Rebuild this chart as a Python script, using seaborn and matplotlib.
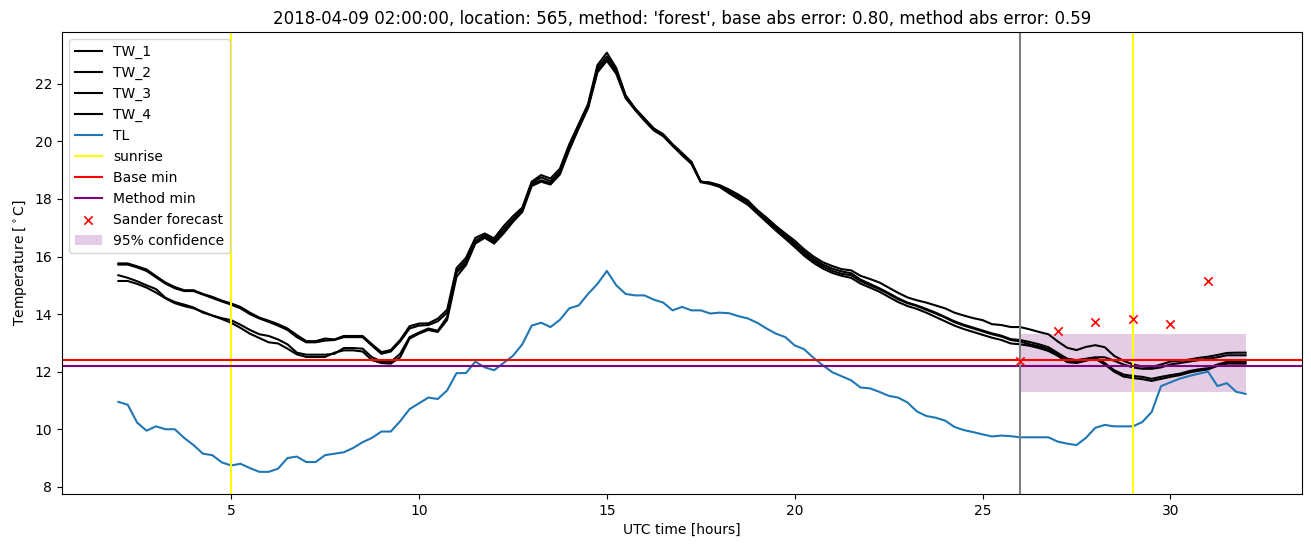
import numpy as np
import pandas as pd
import matplotlib
matplotlib.use("Agg")
import matplotlib.pyplot as plt
import seaborn as sns

# ---- data ----
hours = np.arange(2.0, 32.001, 0.25)

TL = [10.95, 10.85, 10.23, 9.95, 10.1, 10.0, 10.0, 9.7,
      9.45, 9.15, 9.1, 8.85, 8.74, 8.8, 8.65, 8.52,
      8.52, 8.63, 9.0, 9.05, 8.86, 8.86, 9.1, 9.15,
      9.2, 9.35, 9.55, 9.7, 9.92, 9.92, 10.28, 10.7,
      10.9, 11.1, 11.05, 11.35, 11.95, 11.95, 12.35, 12.15,
      12.05, 12.3, 12.55, 12.95, 13.6, 13.7, 13.55, 13.8,
      14.2, 14.3, 14.7, 15.05, 15.5, 15.0, 14.7, 14.65,
      14.65, 14.5, 14.4, 14.13, 14.25, 14.13, 14.13, 14.02,
      14.05, 14.03, 13.93, 13.85, 13.7, 13.5, 13.32, 13.2,
      12.91, 12.78, 12.48, 12.22, 11.98, 11.84, 11.7, 11.45,
      11.42, 11.3, 11.16, 11.1, 10.93, 10.62, 10.46, 10.4,
      10.3, 10.08, 9.97, 9.9, 9.82, 9.75, 9.78, 9.76,
      9.72, 9.72, 9.72, 9.72, 9.57, 9.5, 9.45, 9.7,
      10.05, 10.15, 10.1, 10.1, 10.1, 10.25, 10.6, 11.5,
      11.63, 11.76, 11.85, 11.93, 12.0, 11.5, 11.6, 11.3,
      11.23]

TW_1 = [15.76, 15.76, 15.66, 15.55, 15.32, 15.1, 14.94, 14.83,
        14.83, 14.7, 14.6, 14.47, 14.37, 14.25, 14.05, 13.88,
        13.77, 13.65, 13.5, 13.27, 13.06, 13.06, 13.15, 13.12,
        13.24, 13.24, 13.24, 12.95, 12.68, 12.75, 13.1, 13.58,
        13.67, 13.68, 13.84, 14.15, 15.6, 15.95, 16.65, 16.8,
        16.63, 17.05, 17.4, 17.7, 18.6, 18.83, 18.71, 19.05,
        19.9, 20.6, 21.3, 22.65, 23.08, 22.55, 21.6, 21.15,
        20.8, 20.45, 20.25, 19.9, 19.6, 19.29, 18.6, 18.57,
        18.48, 18.33, 18.15, 17.95, 17.62, 17.35, 17.06, 16.8,
        16.55, 16.25, 16.0, 15.8, 15.67, 15.56, 15.52, 15.33,
        15.22, 15.1, 14.92, 14.74, 14.58, 14.48, 14.4, 14.3,
        14.2, 14.05, 13.95, 13.86, 13.79, 13.65, 13.62, 13.55,
        13.55, 13.47, 13.38, 13.3, 13.05, 12.83, 12.75, 12.86,
        12.92, 12.85, 12.55, 12.38, 12.25, 12.18, 12.16, 12.25,
        12.35, 12.38, 12.42, 12.48, 12.52, 12.58, 12.65, 12.66,
        12.66]

TW_2 = [15.72, 15.72, 15.62, 15.5, 15.28, 15.06, 14.9, 14.8,
        14.8, 14.68, 14.56, 14.44, 14.33, 14.2, 14.0, 13.85,
        13.73, 13.6, 13.45, 13.2, 13.02, 13.02, 13.08, 13.1,
        13.2, 13.2, 13.2, 12.9, 12.62, 12.7, 13.05, 13.5,
        13.6, 13.62, 13.75, 14.05, 15.5, 15.85, 16.55, 16.75,
        16.55, 16.95, 17.3, 17.65, 18.55, 18.75, 18.62, 18.95,
        19.8, 20.55, 21.25, 22.55, 22.95, 22.45, 21.58, 21.12,
        20.78, 20.42, 20.22, 19.88, 19.58, 19.27, 18.6, 18.56,
        18.46, 18.28, 18.1, 17.9, 17.58, 17.3, 17.0, 16.75,
        16.47, 16.17, 15.92, 15.72, 15.58, 15.48, 15.42, 15.2,
        15.05, 14.9, 14.73, 14.55, 14.4, 14.3, 14.18, 14.05,
        13.9, 13.75, 13.63, 13.53, 13.43, 13.33, 13.25, 13.13,
        13.1, 13.03, 12.95, 12.85, 12.65, 12.45, 12.4, 12.45,
        12.5, 12.5, 12.38, 12.25, 12.15, 12.1, 12.1, 12.15,
        12.25, 12.3, 12.35, 12.4, 12.45, 12.5, 12.57, 12.57,
        12.57]

TW_3 = [15.35, 15.26, 15.14, 15.0, 14.87, 14.57, 14.42, 14.33,
        14.23, 14.05, 13.95, 13.86, 13.79, 13.63, 13.45, 13.3,
        13.24, 13.12, 12.95, 12.66, 12.59, 12.59, 12.59, 12.62,
        12.82, 12.82, 12.8, 12.5, 12.36, 12.34, 12.62, 13.2,
        13.36, 13.5, 13.42, 13.9, 15.45, 15.75, 16.5, 16.7,
        16.5, 16.85, 17.25, 17.6, 18.5, 18.65, 18.55, 18.9,
        19.75, 20.5, 21.2, 22.45, 22.85, 22.4, 21.55, 21.1,
        20.75, 20.4, 20.2, 19.85, 19.55, 19.25, 18.6, 18.55,
        18.45, 18.25, 18.05, 17.85, 17.55, 17.25, 16.95, 16.7,
        16.4, 16.1, 15.85, 15.65, 15.5, 15.4, 15.35, 15.15,
        15.0, 14.87, 14.7, 14.52, 14.38, 14.28, 14.15, 14.02,
        13.88, 13.72, 13.6, 13.5, 13.4, 13.3, 13.22, 13.1,
        13.05, 12.95, 12.88, 12.78, 12.6, 12.38, 12.34, 12.42,
        12.48, 12.3, 12.05, 11.9, 11.85, 11.82, 11.75, 11.82,
        11.88, 11.93, 12.02, 12.08, 12.12, 12.25, 12.34, 12.34,
        12.34]

TW_4 = [15.15, 15.15, 15.05, 14.92, 14.75, 14.55, 14.38, 14.28,
        14.2, 14.08, 13.95, 13.83, 13.7, 13.52, 13.32, 13.17,
        13.02, 12.98, 12.8, 12.6, 12.51, 12.51, 12.51, 12.66,
        12.74, 12.74, 12.7, 12.4, 12.3, 12.28, 12.5, 13.15,
        13.32, 13.45, 13.38, 13.8, 15.3, 15.7, 16.45, 16.65,
        16.45, 16.8, 17.2, 17.55, 18.45, 18.6, 18.5, 18.85,
        19.7, 20.45, 21.15, 22.4, 22.8, 22.35, 21.5, 21.1,
        20.72, 20.38, 20.18, 19.85, 19.52, 19.22, 18.58, 18.52,
        18.42, 18.2, 18.0, 17.8, 17.5, 17.2, 16.9, 16.62,
        16.33, 16.03, 15.78, 15.58, 15.43, 15.33, 15.26, 15.06,
        14.92, 14.78, 14.6, 14.42, 14.28, 14.18, 14.05, 13.9,
        13.75, 13.6, 13.48, 13.38, 13.28, 13.18, 13.1, 12.98,
        12.95, 12.9, 12.82, 12.72, 12.55, 12.33, 12.3, 12.38,
        12.45, 12.25, 12.0, 11.83, 11.78, 11.74, 11.68, 11.75,
        11.82, 11.88, 11.97, 12.03, 12.08, 12.2, 12.28, 12.28,
        12.28]

sunrise_hours = [5, 29]
now_hour = 26
base_min = 12.40
method_min = 12.21

sander_hours = [26, 27, 28, 29, 30, 31]
sander_values = [12.38, 13.42, 13.74, 13.84, 13.67, 15.15]

conf_hours = [26, 32]
conf_low = [11.28, 11.28]
conf_high = [13.32, 13.32]

title = ("2018-04-09 02:00:00, location: 565, method: 'forest', "
         "base abs error: 0.80, method abs error: 0.59")

# ---- plot ----
fig = plt.figure(figsize=(13.11, 5.47), dpi=100)
ax = fig.add_axes([62 / 1311, 53 / 547, 1240 / 1311, 462 / 547])

df = pd.DataFrame({"hour": hours, "TW_1": TW_1, "TW_2": TW_2,
                   "TW_3": TW_3, "TW_4": TW_4, "TL": TL})

for name in ["TW_1", "TW_2", "TW_3", "TW_4"]:
    sns.lineplot(data=df, x="hour", y=name, ax=ax, color="black",
                 linewidth=1.5, label=name)
sns.lineplot(data=df, x="hour", y="TL", ax=ax, color="#1f77b4",
             linewidth=1.5, label="TL")

for i, h in enumerate(sunrise_hours):
    ax.axvline(h, color="yellow", linewidth=1.5,
               label="sunrise" if i == 0 else None)
ax.axhline(base_min, color="red", linewidth=1.5, label="Base min")
ax.axhline(method_min, color="purple", linewidth=1.5, label="Method min")
ax.axvline(now_hour, color="gray", linewidth=1.5)

sns.scatterplot(x=sander_hours, y=sander_values, ax=ax, marker="x",
                color="red", s=36, linewidth=1.2, label="Sander forecast",
                zorder=5)
ax.fill_between(conf_hours, conf_low, conf_high, color="purple",
                alpha=0.2, linewidth=0, label="95% confidence")

ax.set_xlim(0.5, 33.5)
ax.set_ylim(7.75, 23.8)
ax.set_title(title, fontsize=12)
ax.set_xlabel("UTC time [hours]")
ax.set_ylabel(r"Temperature [$^\circ$C]")

handles, labels = ax.get_legend_handles_labels()
order = ["TW_1", "TW_2", "TW_3", "TW_4", "TL", "sunrise", "Base min",
         "Method min", "Sander forecast", "95% confidence"]
hmap = dict(zip(labels, handles))
ax.legend([hmap[k] for k in order], order, loc="upper left")

fig.savefig("out.png", dpi=100)
